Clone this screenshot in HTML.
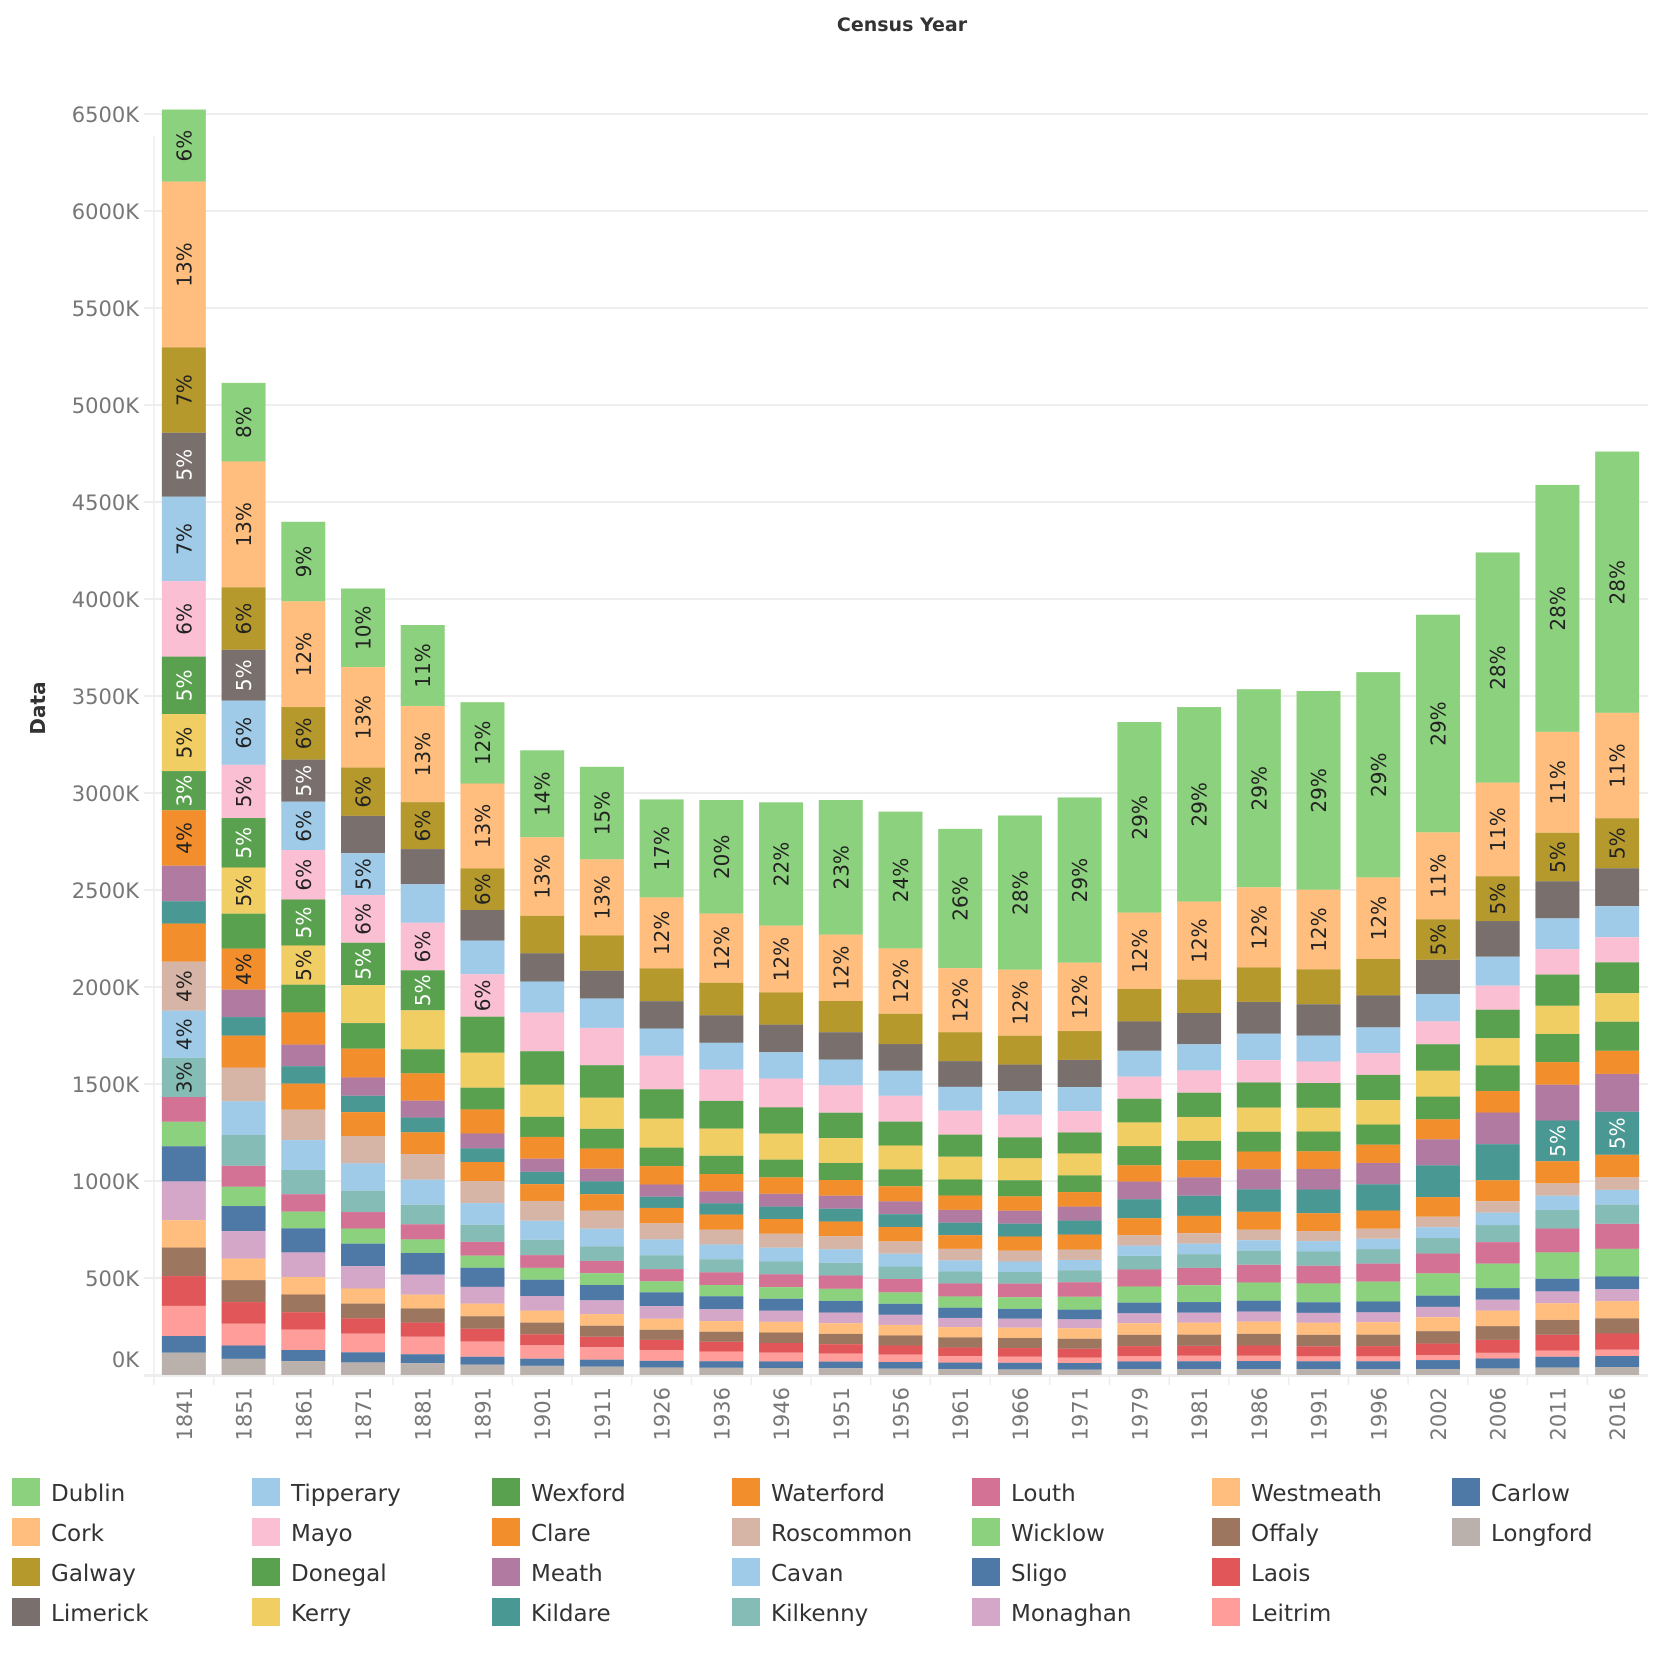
<!DOCTYPE html>
<html><head><meta charset="utf-8"><style>
body{margin:0;background:#fff;font-family:"Liberation Sans",sans-serif;}
svg text{font-family:"DejaVu Sans","Liberation Sans",sans-serif;}
</style></head><body>
<svg id="chart" width="1664" height="1648" xmlns="http://www.w3.org/2000/svg">
<text x="902" y="31" text-anchor="middle" font-size="19" font-weight="bold" fill="#333">Census Year</text>
<text x="0" y="0" transform="translate(45,708) rotate(-90)" text-anchor="middle" font-size="20" font-weight="bold" fill="#333">Data</text>
<g id="grid"></g>
<g id="bars"></g>
<g id="yt"></g>
<g id="xt"></g>
<g id="legend"></g>
</svg>
<script>
const years=["1841","1851","1861","1871","1881","1891","1901","1911","1926","1936","1946","1951","1956","1961","1966","1971","1979","1981","1986","1991","1996","2002","2006","2011","2016"];
const counties=["Dublin","Cork","Galway","Limerick","Tipperary","Mayo","Donegal","Kerry","Wexford","Clare","Meath","Kildare","Waterford","Roscommon","Cavan","Kilkenny","Louth","Wicklow","Sligo","Monaghan","Westmeath","Offaly","Laois","Leitrim","Carlow","Longford"];
const colors=["#8cd17d","#ffbe7d","#b6992d","#79706e","#a0cbe8","#fabfd2","#59a14f","#f1ce63","#59a14f","#f28e2b","#b07aa1","#499894","#f28e2b","#d7b5a6","#a0cbe8","#86bcb6","#d37295","#8cd17d","#4e79a7","#d4a6c8","#ffbe7d","#9d7660","#e15759","#ff9d9a","#4e79a7","#bab0ac"];
const whiteText=["Limerick","Donegal","Wexford","Meath","Kildare","Sligo","Carlow"];
const Dublin=[372,405,410,405,418,419,448,477,505,586,636,694,705,718,795,852,983,1003,1021,1025,1058,1122,1187,1273,1347];
const Cork=[854,649,545,518,495,438,405,392,366,356,344,342,337,330,340,352,393,402,413,410,420,448,482,520,543];
const Galway=[440,322,271,249,242,214,193,182,169,168,166,161,156,149,149,149,167,172,178,180,188,209,231,250,258];
const Limerick=[330,262,217,192,181,158,146,143,141,142,142,141,138,133,137,140,152,161,164,162,165,176,184,191,195];
const Tipperary=[435,331,249,216,199,173,160,152,141,138,136,133,129,123,122,124,133,135,136,133,133,141,149,159,160];
const Mayo=[389,274,255,246,245,219,199,192,172,161,148,141,133,123,116,110,114,115,115,111,112,118,124,131,130];
const Donegal=[296,255,237,218,206,186,173,168,152,143,136,131,123,114,108,108,122,125,130,128,130,137,147,161,159];
const Kerry=[294,238,202,196,201,180,165,160,149,140,134,128,123,117,113,113,122,123,124,122,126,133,140,145,147];
const Wexford=[202,180,143,132,124,112,104,102,95,94,91,88,87,83,83,86,99,100,102,102,104,117,132,145,150];
const Clare=[286,212,166,148,141,124,112,104,95,89,85,81,78,74,74,75,84,88,91,91,94,103,111,117,119];
const Meath=[183,141,111,95,87,77,68,65,63,62,66,67,66,66,67,72,91,95,104,106,110,134,163,184,195];
const Kildare=[115,96,90,84,76,70,63,66,58,58,64,66,66,64,66,72,98,104,116,122,135,164,186,210,222];
const Waterford=[196,164,134,123,112,98,87,84,79,77,76,75,74,71,73,77,87,89,91,92,94,101,108,114,116];
const Roscommon=[253,174,157,141,132,114,102,94,83,77,72,68,64,59,56,54,54,54,55,52,52,54,59,64,65];
const Cavan=[243,174,154,141,130,112,98,91,82,76,71,70,66,57,54,53,53,54,54,53,53,56,64,73,76];
const Kilkenny=[202,159,125,110,100,88,79,75,71,68,66,65,64,62,60,62,70,71,73,74,75,80,88,96,99];
const Louth=[128,108,90,85,78,71,66,63,63,65,66,69,69,67,70,75,88,89,91,91,93,102,111,123,129];
const Wicklow=[126,99,86,78,70,62,61,61,57,58,60,62,59,58,60,66,83,87,94,97,102,115,126,136,142];
const Sligo=[181,129,124,116,112,99,84,79,71,67,62,60,57,53,51,50,55,55,56,55,56,58,60,65,66];
const Monaghan=[200,142,127,115,103,86,75,71,65,61,57,55,52,47,46,46,51,51,52,51,51,53,56,61,61];
const Westmeath=[141,111,90,78,71,65,62,60,57,55,55,55,54,53,53,54,60,62,63,62,64,72,80,86,89];
const Offaly=[147,113,91,76,73,65,60,57,52,52,54,53,52,52,52,52,58,58,60,59,59,64,71,77,78];
const Laois=[154,112,90,79,73,65,57,54,52,50,50,49,47,45,45,45,51,51,53,52,53,59,67,81,84];
const Leitrim=[155,112,105,96,90,79,69,64,56,50,45,41,38,33,31,28,28,28,27,25,25,26,29,32,32];
const Carlow=[86,69,57,52,46,41,37,36,34,34,34,34,34,33,34,34,39,40,41,41,41,46,51,55,57];
const Longford=[115,83,72,65,61,53,47,43,39,37,36,35,33,31,29,28,31,31,31,30,30,31,34,39,41];
const yTicks=[0,500,1000,1500,2000,2500,3000,3500,4000,4500,5000,5500,6000,6500];
const series=[Dublin,Cork,Galway,Limerick,Tipperary,Mayo,Donegal,Kerry,Wexford,Clare,Meath,Kildare,Waterford,Roscommon,Cavan,Kilkenny,Louth,Wicklow,Sligo,Monaghan,Westmeath,Offaly,Laois,Leitrim,Carlow,Longford];

const NS="http://www.w3.org/2000/svg";
const X0=154,BAND=59.72,BW=44,Y0=1375,K=0.194;
const y=v=>Y0-v*K;
const xc=i=>X0+BAND*(i+0.5);
function mk(tag,attrs,parent){const e=document.createElementNS(NS,tag);for(const k in attrs)e.setAttribute(k,attrs[k]);parent.appendChild(e);return e;}
const grid=document.getElementById('grid'),bars=document.getElementById('bars'),yt=document.getElementById('yt'),xt=document.getElementById('xt'),lg=document.getElementById('legend');
mk('line',{x1:X0,y1:136,x2:X0,y2:Y0+8,stroke:'#eee','stroke-width':1.5},grid);
yTicks.forEach(t=>{
  const l=mk('line',{x1:144,y1:y(t),x2:1648,y2:y(t),stroke:'#eee','stroke-width':2},grid);
  
  
  const tx=mk('text',{x:139,y:(t===0?Y0-8:y(t)+8),'text-anchor':'end','font-size':21,fill:'#777'},yt);
  tx.textContent=t+'K';
  
  
});
years.forEach((yr,i)=>{
  const tot=series.reduce((s,a)=>s+a[i],0);
  let cum=tot;
  series.forEach((arr,j)=>{
    const v=arr[i];
    const top=y(cum),h=v*K;
    cum-=v;
    const r=mk('rect',{x:xc(i)-BW/2,y:top,width:BW,height:h,fill:colors[j]},bars);
    
    
    if(h>=39){
      const pct=Math.round(v/tot*100)+'%';
      const t=mk('text',{x:0,y:0,transform:`translate(${xc(i)+7.5},${top+h/2}) rotate(-90)`,'text-anchor':'middle','font-size':20,fill:whiteText.includes(counties[j])?'#fff':'#222'},bars);
      t.textContent=pct;
      
      
    }
  });
  const tk=mk('line',{x1:X0+BAND*i,y1:Y0,x2:X0+BAND*i,y2:Y0+10,stroke:'#eee','stroke-width':1.5},xt);
  
  
  const xl=mk('text',{x:0,y:0,transform:`translate(${xc(i)+8},1387) rotate(-90)`,'text-anchor':'end','font-size':21,fill:'#777'},xt);
  xl.textContent=yr;
  
  
});
mk('line',{x1:144,y1:Y0+1,x2:1648,y2:Y0+1,stroke:'#eee','stroke-width':2},xt);
counties.forEach((c,j)=>{
  const col=Math.floor(j/4),row=j%4;
  const gx=12+col*240,gy=1478+row*40;
  const g=mk('g',{},lg);
  
  
  mk('rect',{x:gx,y:gy,width:28,height:28,fill:colors[j]},g);
  const t=mk('text',{x:gx+39,y:gy+23,'font-size':23,fill:'#333'},g);
  t.textContent=c;
});
</script>
</body></html>
